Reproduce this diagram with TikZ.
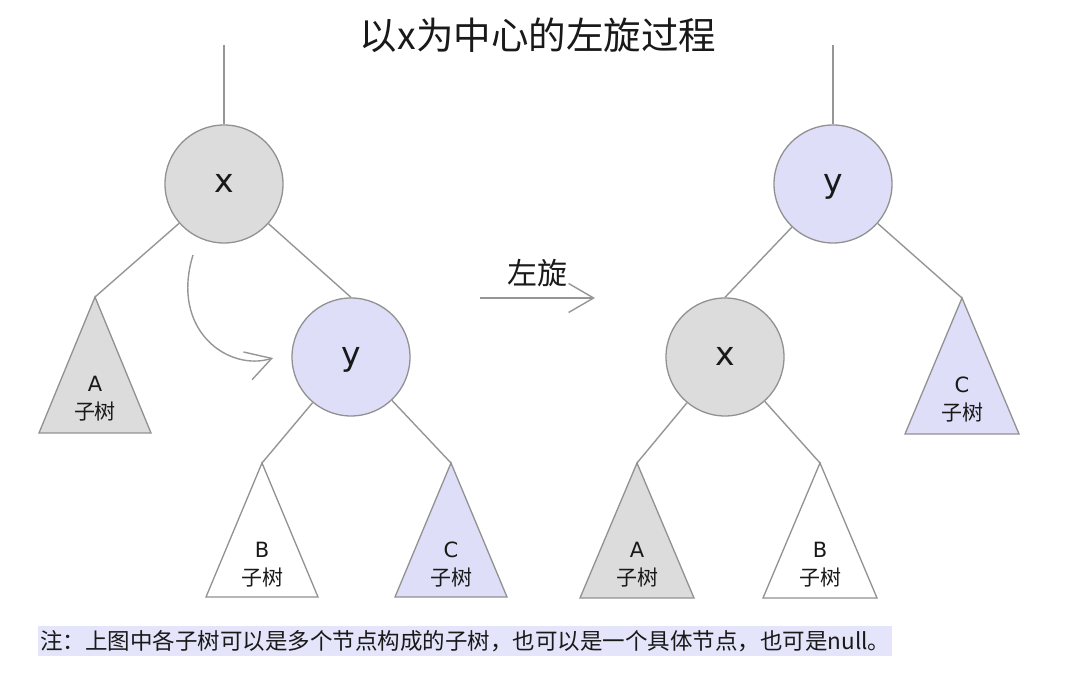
\documentclass[tikz,border=0pt]{standalone}
\usepackage{fontspec}
\setmainfont{Noto Sans CJK SC}
\newfontfamily\latinf{DejaVu Sans}
\usetikzlibrary{arrows.meta}
\definecolor{nodegray}{RGB}{220,220,220}
\definecolor{lav}{RGB}{222,222,248}
\definecolor{edgegray}{RGB}{150,150,150}
\definecolor{bordergray}{RGB}{145,145,145}
\definecolor{notebg}{RGB}{228,228,250}
\definecolor{txt}{RGB}{25,25,25}
\tikzset{
  treenode/.style={circle, minimum size=118pt, inner sep=0pt, draw=bordergray, line width=1.3pt,
    font=\latinf\fontsize{33}{33}\selectfont, text=txt, text height=18pt, text depth=0pt},
  graynode/.style={treenode, fill=nodegray},
  lavnode/.style={treenode, fill=lav},
  edge/.style={draw=edgegray, line width=1.4pt},
  tri/.style={draw=bordergray, line width=1.3pt, line join=miter},
  lbl/.style={align=center, inner sep=0pt, font=\fontsize{21}{28}\selectfont, text=txt},
  arr/.style={draw=edgegray, line width=1.4pt, -{Straight Barb[length=25pt, width=29pt, line width=1.4pt]}},
  titlestyle/.style={font=\fontsize{37.5}{37.5}\selectfont, text=txt, inner sep=0pt},
  notestyle/.style={font=\fontsize{22.5}{22.5}\selectfont, text=txt, fill=notebg, inner xsep=2pt, minimum height=30pt, anchor=west}
}
\newcommand{\sublbl}[1]{{\latinf\fontsize{21}{28}\selectfont #1}\\子树}
\begin{document}
\begin{tikzpicture}[x=1pt,y=1pt]
\useasboundingbox (0,0) rectangle (1080,684);
\fill[white] (0,0) rectangle (1080,684);

% title
\node[titlestyle] (title) at (538,649) {以x为中心的左旋过程};

% ---------- left tree ----------
\coordinate (top1) at (224,639);
\node[graynode] (x1) at (224,500) {x};
\node[lavnode] (y1) at (351,327) {y};
\coordinate (Aapex1) at (95,387);
\coordinate (Bapex1) at (262,221);
\coordinate (Capex1) at (451,221);

\draw[edge] (top1) -- (x1.north);
\draw[edge] (x1) -- (Aapex1);
\draw[edge] (x1) -- (y1.north);
\draw[edge] (y1) -- (Bapex1);
\draw[edge] (y1) -- (Capex1);

\draw[tri, fill=nodegray] (Aapex1) -- ++(-56,-136) -- ++(112,0) -- cycle;
\draw[tri, fill=white] (Bapex1) -- ++(-56,-134) -- ++(112,0) -- cycle;
\draw[tri, fill=lav] (Capex1) -- ++(-56,-134) -- ++(112,0) -- cycle;
\node[lbl] (labA1) at ([yshift=-102pt]Aapex1) {\sublbl{A}};
\node[lbl] (labB1) at ([yshift=-102pt]Bapex1) {\sublbl{B}};
\node[lbl] (labC1) at ([yshift=-102pt]Capex1) {\sublbl{C}};

% curved arrow
\coordinate (cs) at (193,429);
\coordinate (ce) at (273,326);
\draw[arr] (cs) .. controls (170,354) and (228,312) .. (ce);

% rotation arrow
\coordinate (rs) at (480,386);
\coordinate (re) at (595,386);
\draw[arr] (rs) -- (re);
\node[font=\fontsize{30}{30}\selectfont, text=txt, inner sep=0pt] (rotlbl) at (537,411) {左旋};

% ---------- right tree ----------
\coordinate (top2) at (833,639);
\node[lavnode] (y2) at (833,500) {y};
\node[graynode] (x2) at (725,327) {x};
\coordinate (Capex2) at (962,386);
\coordinate (Aapex2) at (637,221);
\coordinate (Bapex2) at (820,221);

\draw[edge] (top2) -- (y2.north);
\draw[edge] (y2) -- (x2.north);
\draw[edge] (y2) -- (Capex2);
\draw[edge] (x2) -- (Aapex2);
\draw[edge] (x2) -- (Bapex2);

\draw[tri, fill=lav] (Capex2) -- ++(-57,-136) -- ++(114,0) -- cycle;
\draw[tri, fill=nodegray] (Aapex2) -- ++(-57,-135) -- ++(114,0) -- cycle;
\draw[tri, fill=white] (Bapex2) -- ++(-57,-135) -- ++(114,0) -- cycle;
\node[lbl] (labC2) at ([yshift=-102pt]Capex2) {\sublbl{C}};
\node[lbl] (labA2) at ([yshift=-102pt]Aapex2) {\sublbl{A}};
\node[lbl] (labB2) at ([yshift=-102pt]Bapex2) {\sublbl{B}};

% note
\node[notestyle] (note) at (38,43) {注：上图中各子树可以是多个节点构成的子树，也可以是一个具体节点，也可是null。};
\end{tikzpicture}
\end{document}
